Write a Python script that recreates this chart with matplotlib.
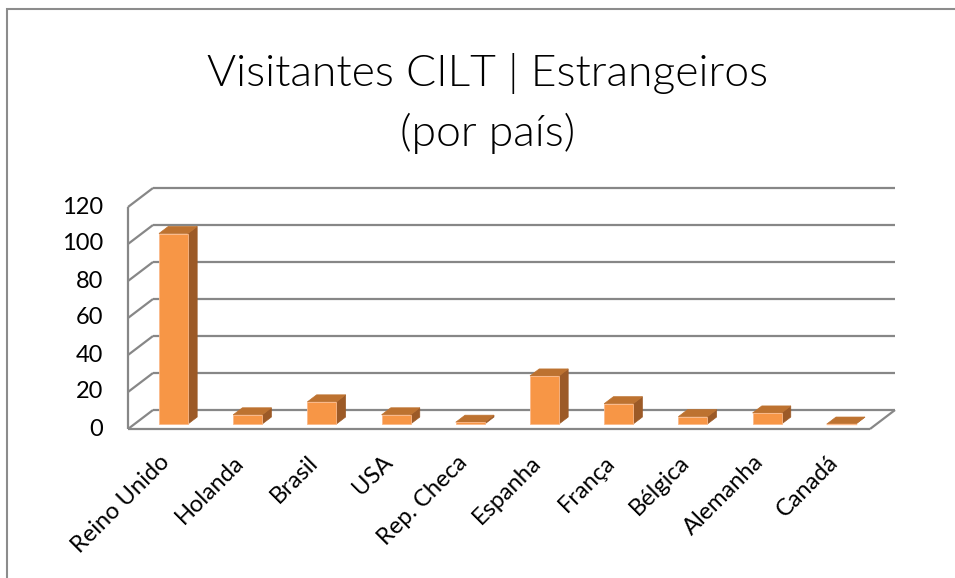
import matplotlib
matplotlib.use("Agg")
import matplotlib.pyplot as plt
from matplotlib.patches import Polygon, Rectangle
from matplotlib.lines import Line2D

categories = ["Reino Unido", "Holanda", "Brasil", "USA", "Rep. Checa",
              "Espanha", "França", "Bélgica", "Alemanha", "Canadá"]
values = [103, 5, 12, 5, 1, 26, 11, 4, 6, 0]
yticks = [0, 20, 40, 60, 80, 100, 120]
title_lines = ["Visitantes CILT | Estrangeiros", "(por país)"]

W, H = 955, 578
fig = plt.figure(figsize=(W / 100, H / 100), dpi=100)
fig.patch.set_facecolor("white")

# front plane of the plot area (pixels from top-left)
L, R, T, B = 128, 870, 207, 429
ax = fig.add_axes([L / W, 1 - B / H, (R - L) / W, (B - T) / H])
n = len(categories)
ax.set_xlim(0, n)
ax.set_ylim(0, 120)
ax.axis("off")

# depth offsets (pixels) converted to data units
DXP, DYP = 25, 19
ddx = DXP / ((R - L) / n)
ddy = DYP / ((B - T) / 120)

grid_c = "#878787"
lw = 1.6

def line(xs, ys, **kw):
    ax.add_line(Line2D(xs, ys, color=grid_c, lw=lw, clip_on=False,
                       solid_capstyle="butt", **kw))

# back wall gridlines + left wall diagonals
for t in yticks:
    line([ddx, n + ddx], [t + ddy, t + ddy])
    line([0, ddx], [t, t + ddy])
# front vertical axis
line([0, 0], [0, 120])
# floor front and right edges
line([0, n], [0, 0])
line([n, n + ddx], [0, ddy])

# bars
f0, f1 = 0.26, 0.63
bx0, bx1 = 0.33, 0.72
front_c = "#F79646"
top_c = "#BD7230"
side_c = "#9C5A27"
a, b = f0 * ddx, f0 * ddy
c, d = f1 * ddx, f1 * ddy
for i, v in enumerate(values):
    x0, x1 = i + bx0, i + bx1
    side = Polygon([(x1 + a, b), (x1 + c, d), (x1 + c, v + d), (x1 + a, v + b)],
                   closed=True, facecolor=side_c, edgecolor=side_c, lw=0.5,
                   clip_on=False, zorder=3)
    top = Polygon([(x0 + a, v + b), (x1 + a, v + b), (x1 + c, v + d), (x0 + c, v + d)],
                  closed=True, facecolor=top_c, edgecolor=top_c, lw=0.5,
                  clip_on=False, zorder=3)
    ax.add_patch(side)
    ax.add_patch(top)
    if v > 0:
        ax.bar(x0 + a, v, width=x1 - x0, bottom=b, align="edge",
               color=front_c, edgecolor="#FBB98A", lw=0.6, clip_on=False, zorder=4)
    else:
        ax.add_line(Line2D([x0 + a, x1 + a], [b, b], color="#FBB98A", lw=1,
                           clip_on=False, zorder=4))

lab_font = "Lato"
# y tick labels
for t in yticks:
    ax.annotate(str(t), xy=(0, t), xytext=(-25 * 0.72, 0), textcoords="offset points",
                ha="right", va="center", fontsize=17, family=lab_font, color="#000000")

# category labels
for i, cat in enumerate(categories):
    ax.annotate(cat, xy=(i + 0.52, 0), xytext=(0, -30 * 0.72), textcoords="offset points",
                ha="right", va="center", rotation=45, rotation_mode="anchor",
                fontsize=17, family=lab_font, color="#000000")

# title
for k, yb in enumerate([86, 146]):
    fig.text(488 / W, 1 - yb / H, title_lines[k], ha="center", va="baseline",
             fontsize=32, family=lab_font, fontweight=300, color="#000000")

# outer chart border (cropped on right and bottom)
fig.patches.append(Rectangle((7 / W, -0.1), 2.0, 1 - 9 / H + 0.1,
                             transform=fig.transFigure, fill=False,
                             edgecolor="#8C8C8C", lw=1.5))

fig.savefig("out.png", dpi=100, facecolor="white")
